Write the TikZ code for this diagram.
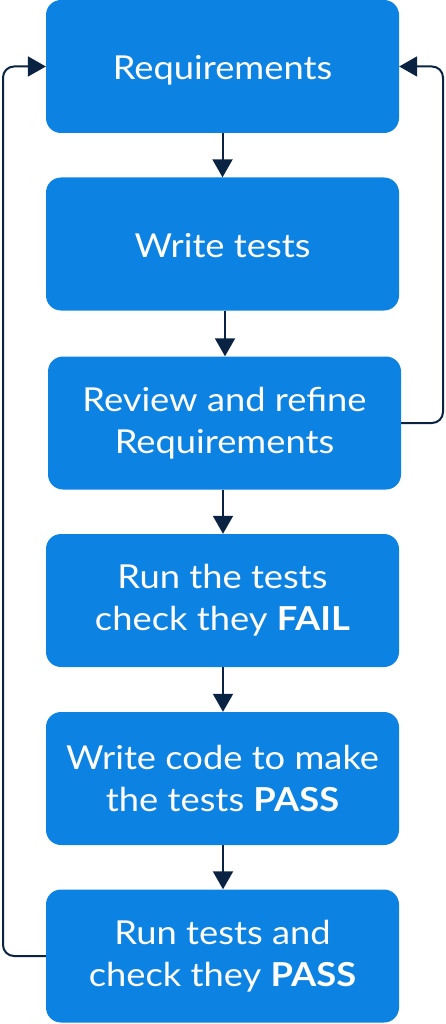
\documentclass[tikz,border=0pt]{standalone}
\usepackage{fontspec}
\setmainfont{Lato}[FakeStretch=1.1]
\usetikzlibrary{arrows.meta}
\definecolor{boxblue}{HTML}{0C82E3}
\definecolor{navy}{HTML}{0A2342}
\begin{document}
\begin{tikzpicture}[x=1pt,y=-1pt,
  stepbox/.style={fill=boxblue, rounded corners=15pt, minimum width=353pt, minimum height=133pt,
    inner sep=0pt, text=white, align=center, font=\fontsize{33}{42}\selectfont},
  oneline/.style={text height=27pt, text depth=0pt},
  conn/.style={draw=navy, line width=2pt, -{Triangle[width=20pt,length=18pt]}},
  loopconn/.style={conn, rounded corners=11pt}]
\useasboundingbox (0,0) rectangle (445,1024);
\node[stepbox,oneline] (req) at (222.5,66.5) {Requirements};
\node[stepbox,oneline] (wt) at (222.5,244) {Write tests};
\node[stepbox] (rev) at (224.5,423) {Review and refine\\Requirements};
\node[stepbox] (fail) at (222.5,600.5) {Run the tests\\check they \textbf{FAIL}};
\node[stepbox] (code) at (222.5,778.5) {Write code to make\\the tests \textbf{PASS}};
\node[stepbox] (pass) at (222.5,956) {Run tests and\\check they \textbf{PASS}};
\draw[conn] (req.south) -- (wt.north);
\draw[conn] ([xshift=2.5pt]wt.south) -- ([xshift=0.5pt]rev.north);
\draw[conn] ([xshift=-1.5pt]rev.south) -- ([xshift=0.5pt]fail.north);
\draw[conn] ([xshift=0.5pt]fail.south) -- ([xshift=0.5pt]code.north);
\draw[conn] ([xshift=0.5pt]code.south) -- ([xshift=0.5pt]pass.north);
\coordinate (lb) at (3,956);
\coordinate (lt) at (3,66.5);
\coordinate (rb) at (443,423);
\coordinate (rt) at (443,66.5);
\draw[loopconn] (pass.west) -- (lb) -- (lt) -- (req.west);
\draw[loopconn] (rev.east) -- (rb) -- (rt) -- (req.east);
\end{tikzpicture}
\end{document}
